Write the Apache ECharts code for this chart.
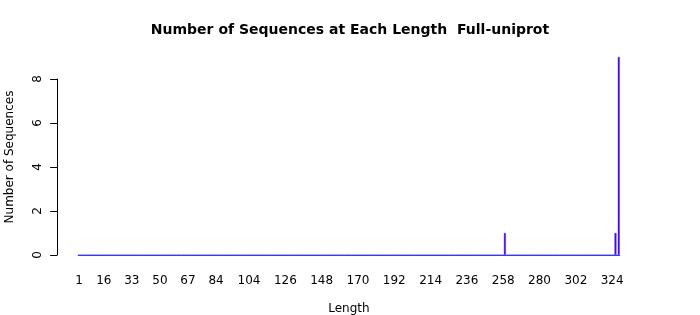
<!DOCTYPE html>
<html>
<head>
<meta charset="utf-8">
<script src="https://cdn.jsdelivr.net/npm/echarts@6/dist/echarts.min.js"></script>
<style>html,body{margin:0;padding:0;background:#fff;}#c{width:700px;height:315px;}</style>
</head>
<body>
<div id="c"></div>
<script>
// Data
var maxLength = 328;                       // last length category on the axis
var nonZeroLengths = [259, 326, 328];      // lengths that have sequences
var nonZeroCounts = [1, 1, 9];             // number of sequences at those lengths
var tickLabels = ['1','16','33','50','67','84','104','126','148','170','192','214','236','258','280','302','324'];
var yTicks = [0, 2, 4, 6, 8];

// Build category axis and value table
var categories = [];
var counts = [];
for (var i = 1; i <= maxLength; i++) { categories.push(String(i)); counts.push(0); }
nonZeroLengths.forEach(function (len, k) { counts[len - 1] = nonZeroCounts[k]; });
var labelSet = {};
tickLabels.forEach(function (t) { labelSet[t] = true; });

var chart = echarts.init(document.getElementById('c'), null, {renderer: 'canvas'});
var font = 'DejaVu Sans';
chart.setOption({
  animation: false,
  backgroundColor: '#ffffff',
  title: {
    text: 'Number of Sequences at Each Length  Full-uniprot',
    left: 'center', top: 18,
    textStyle: {fontFamily: font, fontWeight: 'bold', fontSize: 14, color: '#000'}
  },
  grid: {left: 78.2, top: 79, width: 541.4, height: 176, containLabel: false, outerBoundsMode: 'none'},
  xAxis: {
    type: 'category',
    data: categories,
    boundaryGap: true,
    axisLine: {show: true, lineStyle: {color: '#3a3aff', width: 1.2}},
    axisTick: {show: false},
    splitLine: {show: false},
    axisLabel: {
      interval: function (idx, val) { return !!labelSet[val]; },
      margin: 20, fontFamily: font, fontSize: 12, color: '#000',
      hideOverlap: false
    },
    name: 'Length', nameLocation: 'middle', nameGap: 48,
    nameTextStyle: {fontFamily: font, fontSize: 12, color: '#000'}
  },
  yAxis: {
    type: 'value', min: yTicks[0], max: yTicks[yTicks.length - 1], interval: 2,
    offset: 21,
    axisLine: {show: true, lineStyle: {color: '#000', width: 1}},
    axisTick: {show: true, length: 7, lineStyle: {color: '#000'}},
    splitLine: {show: false},
    axisLabel: {rotate: 90, margin: 13, fontFamily: font, fontSize: 12, color: '#000'},
    name: 'Number of Sequences', nameLocation: 'middle', nameRotate: 90, nameGap: 41,
    nameTextStyle: {fontFamily: font, fontSize: 12, color: '#000', padding: [0, 0, 0, 20]}
  },
  series: [{
    type: 'bar',
    data: counts,
    barWidth: 2,
    clip: false,
    itemStyle: {color: '#5500cc', borderColor: '#3a3aff', borderWidth: 0.4}
  }]
});
</script>
</body>
</html>
